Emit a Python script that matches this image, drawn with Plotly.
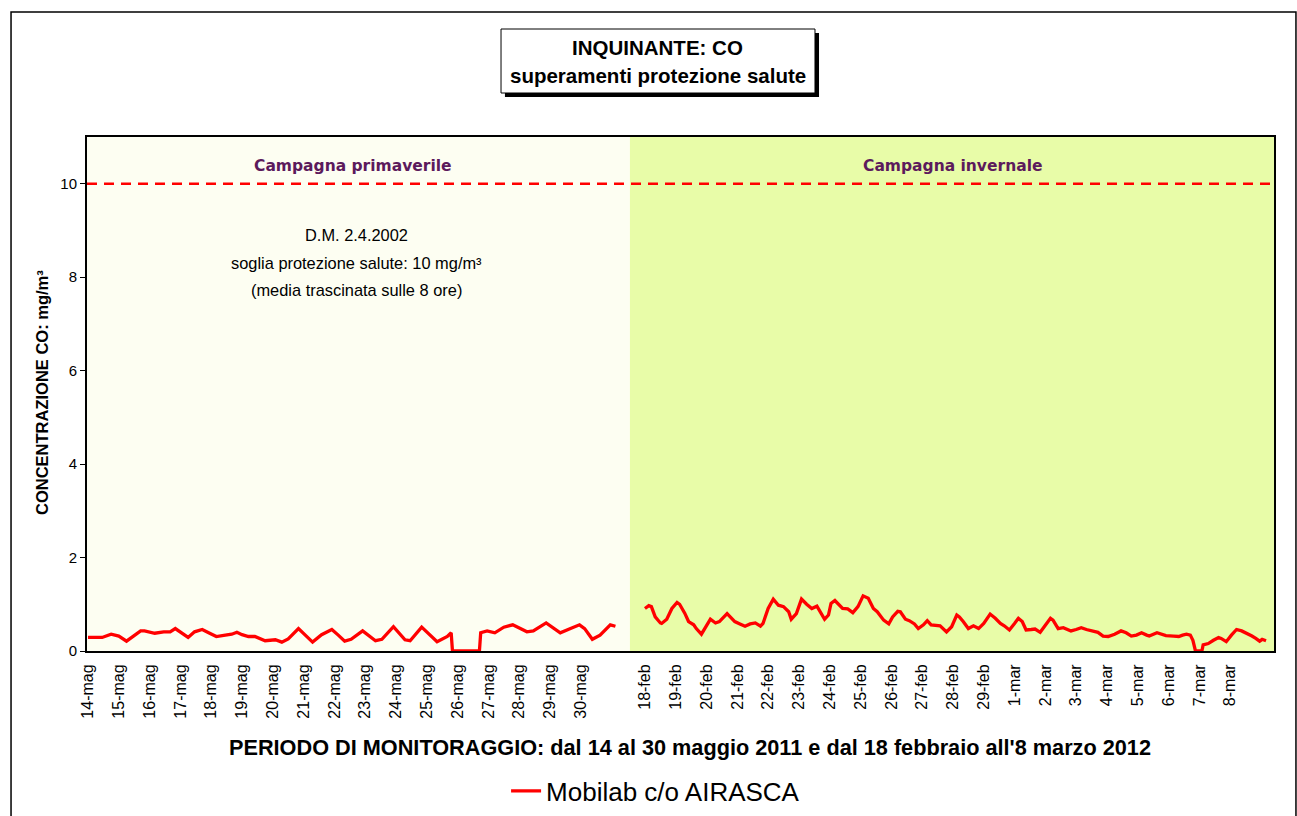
import plotly.graph_objects as go

# ---------------- data ----------------
spring_days = ["14-mag", "15-mag", "16-mag", "17-mag", "18-mag", "19-mag", "20-mag", "21-mag",
               "22-mag", "23-mag", "24-mag", "25-mag", "26-mag", "27-mag", "28-mag", "29-mag", "30-mag"]
winter_days = ["18-feb", "19-feb", "20-feb", "21-feb", "22-feb", "23-feb", "24-feb", "25-feb",
               "26-feb", "27-feb", "28-feb", "29-feb", "1-mar", "2-mar", "3-mar", "4-mar",
               "5-mar", "6-mar", "7-mar", "8-mar"]

# hours from 14-mag 00:00 and CO (mg/m3, 8h running mean)
spring_hours = [0, 11, 18, 24, 30, 41, 44, 52, 59, 64, 68, 73, 78, 83, 89, 94, 100, 107, 112, 116,
                120, 125, 130, 138, 146, 151, 156, 164, 169, 175, 182, 190, 195, 200, 205, 214,
                224, 229, 238, 247, 251, 260, 272, 280, 283, 284, 305, 306, 311, 317, 324, 331,
                342, 347, 357, 368, 376, 383, 387, 393, 399, 407, 411]
spring_co = [0.29, 0.29, 0.36, 0.32, 0.21, 0.43, 0.43, 0.38, 0.41, 0.41, 0.48, 0.38, 0.29, 0.41,
             0.46, 0.39, 0.31, 0.34, 0.36, 0.40, 0.35, 0.31, 0.31, 0.22, 0.24, 0.19, 0.26, 0.48,
             0.34, 0.19, 0.35, 0.46, 0.34, 0.21, 0.25, 0.43, 0.22, 0.25, 0.52, 0.24, 0.22, 0.51,
             0.20, 0.31, 0.39, 0.00, 0.00, 0.39, 0.43, 0.39, 0.51, 0.56, 0.41, 0.43, 0.60, 0.39,
             0.48, 0.56, 0.48, 0.25, 0.34, 0.56, 0.53]

# hours from 18-feb 00:00
winter_hours = [0, 3, 5, 8, 12, 13, 17, 21, 25, 27, 31, 34, 38, 40, 44, 48, 51, 55, 58, 64, 66, 70,
                74, 78, 82, 86, 90, 92, 96, 100, 104, 108, 112, 114, 118, 122, 126, 130, 134, 138,
                140, 143, 145, 148, 152, 154, 158, 162, 166, 170, 174, 178, 181, 186, 190, 193,
                197, 199, 203, 206, 210, 213, 217, 220, 223, 230, 235, 239, 243, 245, 248, 252,
                256, 260, 264, 269, 273, 277, 280, 284, 288, 291, 294, 297, 301, 304, 308, 312,
                316, 318, 322, 326, 329, 332, 336, 340, 344, 349, 353, 357, 361, 366, 371, 375,
                379, 383, 387, 391, 393, 399, 403, 406, 412, 416, 419, 422, 425, 427, 429, 434,
                435, 439, 443, 447, 449, 453, 457, 461, 465, 469, 473, 476, 479, 481, 484]
winter_co = [0.91, 0.97, 0.95, 0.73, 0.60, 0.59, 0.68, 0.91, 1.04, 1.00, 0.81, 0.63, 0.56, 0.48,
             0.36, 0.56, 0.68, 0.60, 0.63, 0.80, 0.75, 0.63, 0.58, 0.53, 0.58, 0.60, 0.53, 0.59,
             0.91, 1.11, 0.98, 0.95, 0.84, 0.68, 0.80, 1.11, 1.00, 0.91, 0.96, 0.77, 0.68, 0.77,
             1.02, 1.08, 0.98, 0.91, 0.90, 0.82, 0.95, 1.18, 1.13, 0.91, 0.84, 0.66, 0.58, 0.73,
             0.85, 0.84, 0.68, 0.65, 0.58, 0.48, 0.56, 0.65, 0.56, 0.54, 0.41, 0.52, 0.77, 0.73,
             0.63, 0.48, 0.54, 0.48, 0.59, 0.79, 0.70, 0.59, 0.54, 0.45, 0.59, 0.70, 0.63, 0.45,
             0.46, 0.47, 0.40, 0.56, 0.70, 0.66, 0.48, 0.50, 0.47, 0.43, 0.46, 0.50, 0.46, 0.43,
             0.40, 0.32, 0.31, 0.36, 0.43, 0.39, 0.32, 0.34, 0.39, 0.34, 0.32, 0.39, 0.36, 0.33,
             0.32, 0.31, 0.34, 0.36, 0.34, 0.23, 0.00, 0.00, 0.13, 0.16, 0.23, 0.29, 0.27, 0.20,
             0.34, 0.46, 0.43, 0.38, 0.32, 0.27, 0.21, 0.25, 0.22]

LIMIT = 10
WINTER_OFFSET = 434      # axis position (hours) where the winter campaign starts
BOUNDARY = 422.3         # axis position of the separation between the two campaigns
X_RANGE = [-0.8, 924.2]

# ---------------- build ----------------
xs = list(spring_hours) + [None] + [WINTER_OFFSET + h for h in winter_hours]
ys = list(spring_co) + [None] + list(winter_co)

tickvals = [24 * i for i in range(len(spring_days))] + \
           [WINTER_OFFSET + 24 * i for i in range(len(winter_days))]
ticktext = spring_days + winter_days

ARIAL = "Liberation Sans, Arial, sans-serif"
VERDANA = "DejaVu Sans, Verdana, sans-serif"

fig = go.Figure()
fig.add_trace(go.Scatter(
    x=xs, y=ys, mode="lines", name="Mobilab c/o AIRASCA",
    line=dict(color="#FF0000", width=3.3), connectgaps=False,
))

shapes = [
    dict(type="rect", xref="x", yref="paper", x0=X_RANGE[0], x1=BOUNDARY, y0=0, y1=1,
         fillcolor="#FDFEF2", line=dict(width=0), layer="below"),
    dict(type="rect", xref="x", yref="paper", x0=BOUNDARY, x1=X_RANGE[1], y0=0, y1=1,
         fillcolor="#E8FCA8", line=dict(width=0), layer="below"),
    dict(type="line", xref="paper", yref="y", x0=0, x1=1, y0=LIMIT, y1=LIMIT,
         line=dict(color="#FF0000", width=2.5, dash="10px,7px")),
    dict(type="rect", xref="paper", yref="paper", x0=-0.064, x1=1.0185, y0=-0.35, y1=1.2432,
         line=dict(color="black", width=1.5), fillcolor="rgba(0,0,0,0)"),
    dict(type="rect", xref="paper", yref="paper", x0=0.3521, x1=0.6167, y0=1.0778, y1=1.2023,
         line=dict(color="black", width=0), fillcolor="black"),
    dict(type="rect", xref="paper", yref="paper", x0=0.3488, x1=0.6133, y0=1.0856, y1=1.2101,
         line=dict(color="black", width=1), fillcolor="white"),
]


def ann(text, x, y, size, xref="paper", color="black", family=ARIAL, **kw):
    return dict(text=text, xref=xref, yref="paper", x=x, y=y, showarrow=False,
                xanchor="center", yanchor="middle",
                font=dict(family=family, size=size, color=color), **kw)


annotations = [
    ann("<b>INQUINANTE: CO</b>", 0.481, 1.175, 20.5),
    ann("<b>superamenti protezione salute</b>", 0.481, 1.1206, 20.5),
    ann("<b>Campagna primaverile</b>", 206.5, 0.9436, 15.5, xref="x", color="#5C1A5C", family=VERDANA),
    ann("<b>Campagna invernale</b>", 674, 0.9436, 15.5, xref="x", color="#5C1A5C", family=VERDANA),
    ann("D.M. 2.4.2002", 209.6, 0.8093, 16.4, xref="x"),
    ann("soglia protezione salute: 10 mg/m³", 209.6, 0.7549, 16.4, xref="x"),
    ann("(media trascinata sulle 8 ore)", 209.6, 0.7023, 16.4, xref="x"),
    ann("<b>CONCENTRAZIONE CO: mg/m³</b>", -0.0379, 0.502, 16.5, textangle=-90),
    ann("<b>PERIODO DI MONITORAGGIO: dal 14 al 30 maggio 2011 e dal 18 febbraio all'8 marzo 2012</b>",
        0.508, -0.1887, 21.7),
]

fig.update_layout(
    width=1297, height=816,
    margin=dict(l=87, r=23, t=137, b=165),
    paper_bgcolor="white", plot_bgcolor="#FDFEF2",
    shapes=shapes, annotations=annotations,
    showlegend=True,
    legend=dict(x=0.479, xanchor="center", xref="paper", y=0.0306, yanchor="middle",
                yref="container", orientation="h",
                font=dict(family=ARIAL, size=26, color="black"), bgcolor="rgba(0,0,0,0)"),
    xaxis=dict(range=X_RANGE, tickmode="array", tickvals=tickvals, ticktext=ticktext,
               tickangle=-90, showgrid=False, zeroline=False, ticks="", ticklabelstandoff=5,
               showline=True, linecolor="black", linewidth=2, mirror=True, automargin=False,
               tickfont=dict(family=ARIAL, size=16, color="black")),
    yaxis=dict(range=[0, 11], tickvals=[0, 2, 4, 6, 8, 10], showgrid=False, zeroline=False,
               ticks="outside", ticklen=5, tickcolor="black", tickwidth=1, automargin=False,
               showline=True, linecolor="black", linewidth=2, mirror=True,
               tickfont=dict(family=ARIAL, size=15, color="black")),
)

fig.write_html("out.html", config={"displayModeBar": False},
               post_script="document.body.style.margin='0';")
